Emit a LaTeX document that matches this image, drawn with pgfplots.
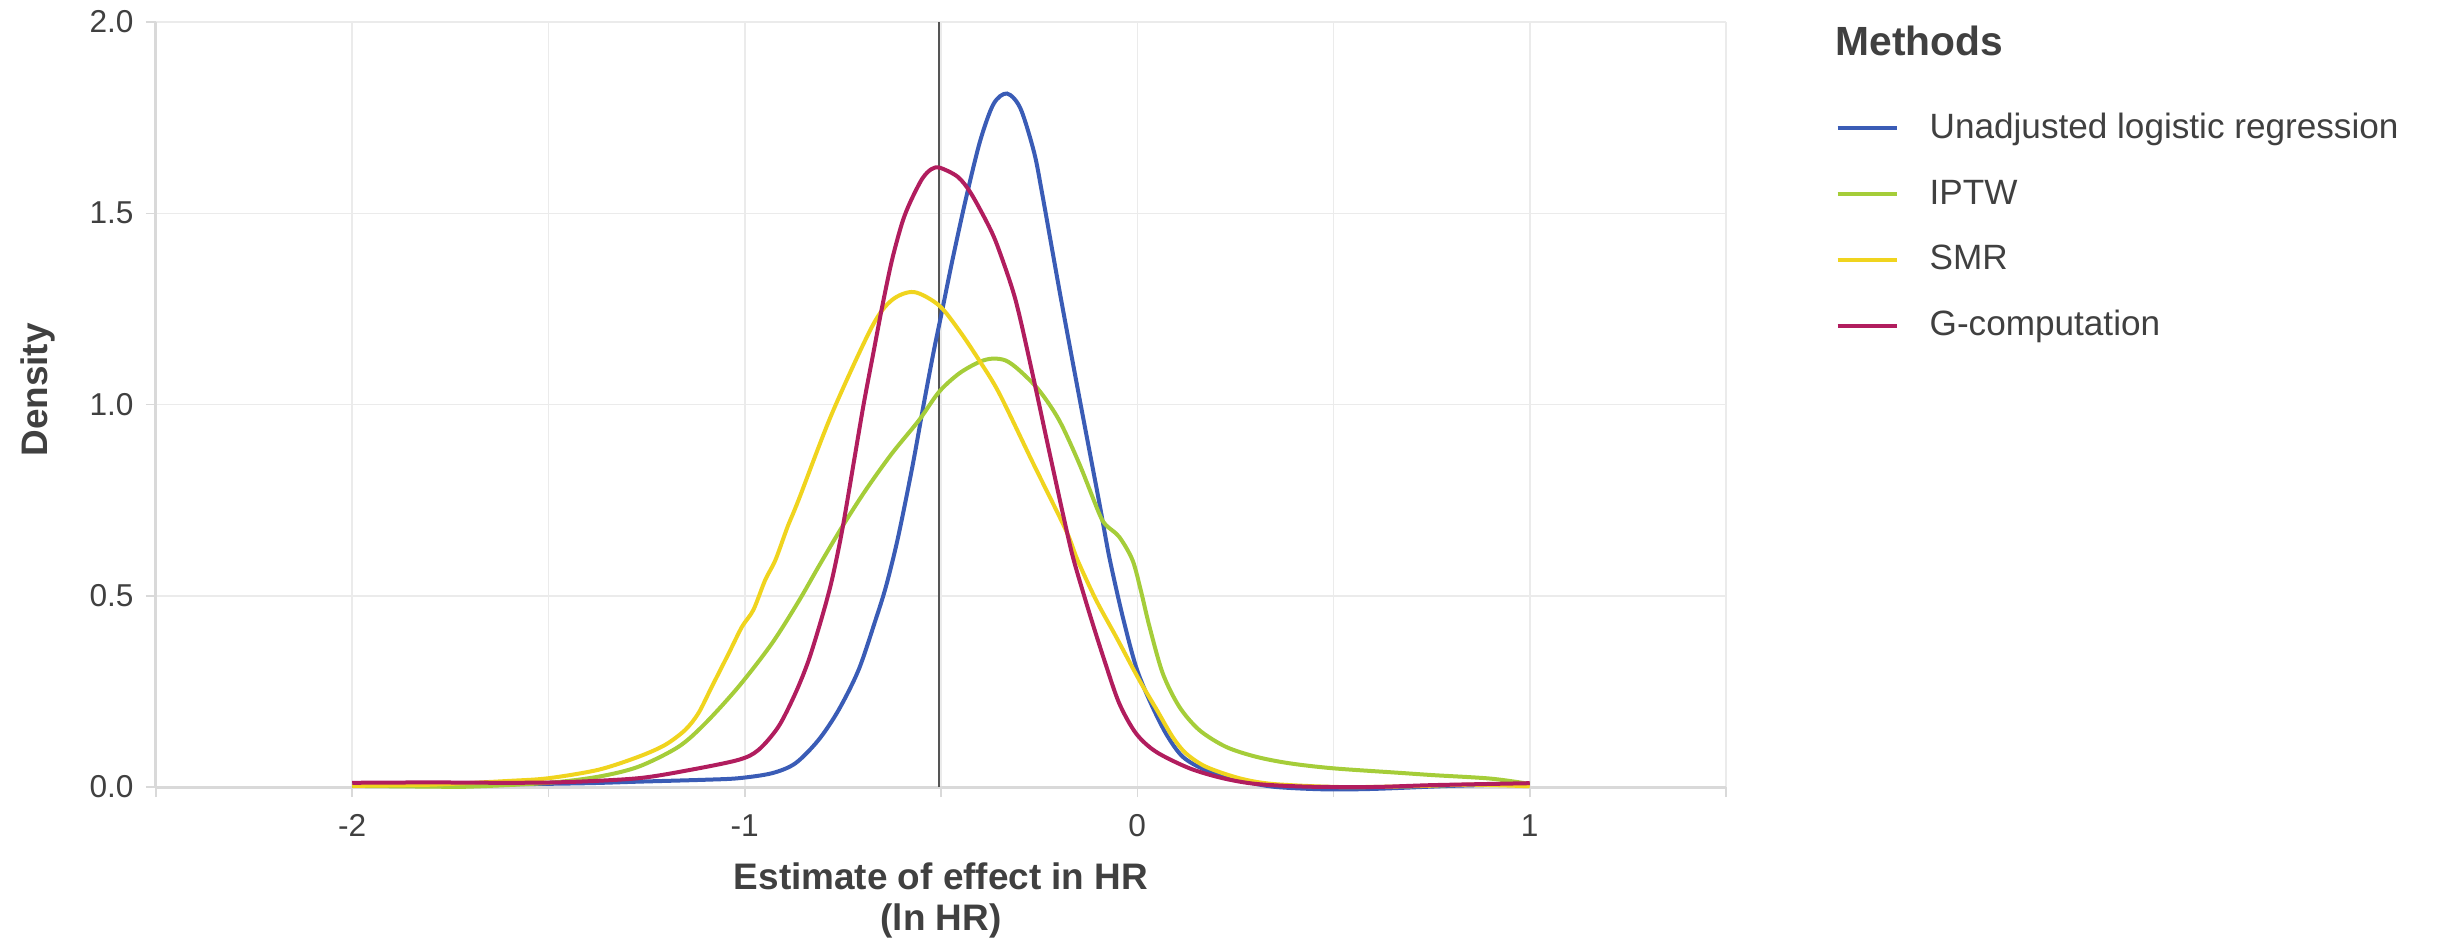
\documentclass[border=0pt]{standalone}
\usepackage{fontspec}
\setmainfont{Liberation Sans}
\usepackage{pgfplots}
\pgfplotsset{compat=1.18}

\definecolor{txt}{HTML}{404040}
\definecolor{axisgray}{HTML}{D9D9D9}
\definecolor{gridgray}{HTML}{EBEBEB}
\definecolor{refline}{HTML}{555555}
\definecolor{cUnadj}{HTML}{3A5CB6}
\definecolor{cIPTW}{HTML}{A5CD39}
\definecolor{cSMR}{HTML}{F0D41E}
\definecolor{cGcomp}{HTML}{B11D5E}

% density curves
\pgfplotstableread{
x y
-2.00 0.004
-1.80 0.005
-1.60 0.007
-1.40 0.010
-1.271 0.014
-1.10 0.019
-1.016 0.023
-0.931 0.036
-0.871 0.062
-0.812 0.123
-0.761 0.201
-0.710 0.306
-0.667 0.436
-0.640 0.525
-0.610 0.650
-0.573 0.837
-0.544 1.001
-0.518 1.142
-0.497 1.246
-0.471 1.377
-0.437 1.536
-0.400 1.690
-0.366 1.786
-0.332 1.813
-0.298 1.775
-0.263 1.660
-0.242 1.550
-0.195 1.280
-0.146 1.010
-0.097 0.745
-0.071 0.600
-0.037 0.445
-0.003 0.314
0.031 0.227
0.073 0.140
0.116 0.079
0.175 0.044
0.260 0.018
0.345 0.001
0.473 -0.006
0.600 -0.005
0.800 0.003
1.000 0.008
}\unadj

\pgfplotstableread{
x y
-2.00 0.003
-1.80 0.001
-1.70 0.001
-1.50 0.011
-1.373 0.027
-1.271 0.053
-1.169 0.105
-1.101 0.166
-1.016 0.262
-0.931 0.375
-0.863 0.485
-0.812 0.576
-0.752 0.680
-0.692 0.776
-0.625 0.872
-0.556 0.959
-0.505 1.033
-0.454 1.081
-0.403 1.111
-0.369 1.120
-0.335 1.115
-0.301 1.090
-0.250 1.037
-0.199 0.959
-0.148 0.846
-0.097 0.715
-0.080 0.685
-0.046 0.654
-0.012 0.593
0.010 0.510
0.031 0.420
0.065 0.297
0.107 0.210
0.158 0.149
0.226 0.105
0.303 0.079
0.388 0.062
0.498 0.049
0.669 0.037
0.755 0.031
0.900 0.022
1.000 0.008
}\iptw

\pgfplotstableread{
x y
-2.00 0.003
-1.80 0.006
-1.60 0.016
-1.50 0.023
-1.373 0.045
-1.271 0.079
-1.203 0.110
-1.152 0.149
-1.118 0.193
-1.084 0.262
-1.041 0.349
-1.007 0.419
-0.978 0.463
-0.948 0.541
-0.922 0.593
-0.891 0.680
-0.863 0.750
-0.778 0.976
-0.676 1.203
-0.625 1.273
-0.569 1.294
-0.505 1.259
-0.454 1.194
-0.403 1.116
-0.352 1.030
-0.267 0.850
-0.182 0.672
-0.152 0.593
-0.105 0.489
-0.054 0.393
0.005 0.280
0.048 0.205
0.090 0.131
0.124 0.088
0.175 0.053
0.260 0.023
0.345 0.008
0.515 0.000
0.700 0.002
0.850 0.006
1.000 0.002
}\smr

\pgfplotstableread{
x y
-2.00 0.011
-1.80 0.012
-1.60 0.011
-1.45 0.013
-1.271 0.023
-1.143 0.044
-1.016 0.071
-0.965 0.097
-0.914 0.158
-0.871 0.245
-0.837 0.332
-0.803 0.445
-0.778 0.541
-0.752 0.670
-0.722 0.850
-0.697 1.001
-0.671 1.142
-0.650 1.255
-0.625 1.377
-0.599 1.475
-0.578 1.530
-0.548 1.590
-0.525 1.615
-0.503 1.619
-0.457 1.595
-0.423 1.551
-0.377 1.464
-0.352 1.403
-0.310 1.273
-0.267 1.081
-0.225 0.881
-0.182 0.680
-0.161 0.590
-0.122 0.455
-0.084 0.332
-0.046 0.219
-0.003 0.140
0.048 0.092
0.133 0.049
0.218 0.023
0.303 0.008
0.431 0.001
0.600 0.000
0.755 0.005
1.000 0.010
}\gcomp

\begin{document}
\begin{tikzpicture}
\useasboundingbox (-15.6mm,-15.3mm) rectangle (228.9mm,78.7mm);
\begin{axis}[
    scale only axis,
    width=157mm, height=76.5mm,
    xmin=-2.5, xmax=1.5, ymin=0, ymax=2,
    clip=false,
    axis x line*=bottom, axis y line*=left,
    axis line style={draw=axisgray, line width=0.3mm},
    xtick={-2.5,-2,-1.5,-1,-0.5,0,0.5,1,1.5},
    xticklabels={,-2,,-1,,0,,1,},
    ytick={0,0.5,1,1.5,2},
    yticklabels={0.0,0.5,1.0,1.5,2.0},
    tick align=outside, major tick length=1mm,
    tick style={draw=axisgray, line width=0.15mm},
    grid=major, grid style={draw=gridgray, line width=0.15mm},
    ticklabel style={font=\fontsize{9}{10}\selectfont, text=txt},
    xticklabel style={yshift=-0.5mm},
    xlabel={Estimate of effect in HR\\(ln HR)},
    ylabel={Density},
    label style={font=\bfseries\fontsize{10.5}{11.6}\selectfont, text=txt},
    xlabel style={at={(rel axis cs:0.5,0)}, anchor=north, yshift=-7.5mm, align=center, inner sep=0pt},
    ylabel style={at={(rel axis cs:-0.075,0.519)}, anchor=center, inner sep=0pt},
    every axis plot/.append style={line width=0.4mm, smooth},
    legend image code/.code={\draw[#1] (0mm,0mm) -- (5.9mm,0mm);},
    legend cell align=left,
    legend style={
        at={(rel axis cs:1.0694,0.732)}, anchor=west,
        draw=none, fill=none, inner sep=0pt,
        font=\fontsize{10}{12}\selectfont, text=txt,
        row sep=3.37mm,
        nodes={inner sep=0pt, text height=2.6mm, text depth=0.6mm},
        /tikz/every odd column/.append style={column sep=3.1mm},
    },
]
\addplot[refline, line width=0.15mm, forget plot, sharp plot] coordinates {(-0.505,0) (-0.505,2)};
\addplot[cUnadj] table {\unadj};
\addlegendentry{Unadjusted logistic regression}
\addplot[cIPTW] table {\iptw};
\addlegendentry{IPTW}
\addplot[cSMR] table {\smr};
\addlegendentry{SMR}
\addplot[cGcomp] table {\gcomp};
\addlegendentry{G-computation}
\node[anchor=west, inner sep=0pt, font=\bfseries\fontsize{11.6}{13}\selectfont, text=txt]
    at (rel axis cs:1.0694,0.975) {Methods};
\end{axis}
\end{tikzpicture}
\end{document}
